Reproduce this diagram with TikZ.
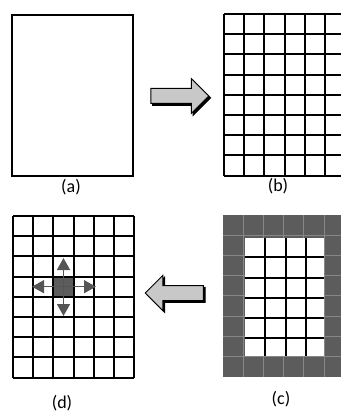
\documentclass[tikz,border=0pt]{standalone}
\usepackage{fontspec}
\setmainfont{Carlito}
\usepackage{tikz}
\usetikzlibrary{arrows.meta, positioning, shapes.arrows, shadows}

\definecolor{arrowfill}{RGB}{200,200,200}
\definecolor{cellgray}{RGB}{92,92,92}
\definecolor{sepgray}{RGB}{135,135,135}
\definecolor{markgray}{RGB}{85,85,85}

\begin{document}
\begin{tikzpicture}[
  x=1pt, y=-1pt,
  gridline/.style={line width=1.9pt, black},
  sepline/.style={line width=1pt, sepgray},
  panel/.style={draw, line width=1.9pt, minimum width=121pt, minimum height=161pt, inner sep=0pt, anchor=north west},
  caption/.style={font=\fontsize{18}{20}\selectfont, inner sep=0pt},
  bigarrow/.style={single arrow, draw, line width=1pt, fill=arrowfill, inner sep=7pt,
    single arrow head extend=10pt, minimum height=58pt,
    copy shadow={shadow xshift=1.8pt, shadow yshift=-1.8pt, fill=black, draw=black}},
  spread/.style={-{Triangle[length=12pt, width=13pt]}, line width=1.5pt, markgray}
]
\useasboundingbox (0,0) rectangle (340,414);

% (a) empty domain
\node[panel] (pa) at (11,14) {};
\node[caption] (la) at (71,187) {(a)};

% step arrows
\node[bigarrow] (fwd) at (176,96) {};
\node[bigarrow, shape border rotate=180] (back) at (178,293) {};

% (b) meshed domain
\begin{scope}[shift={(224,14)}]
  \foreach \i in {0,...,6}
    \draw[gridline] (\i*20.2,0) -- (\i*20.2,161.6);
  \foreach \j in {0,...,8}
    \draw[gridline] (0,\j*20.2) -- (121.2,\j*20.2);
\end{scope}
\node[caption] (lb) at (278,186) {(b)};

% (c) boundary cells filled
\begin{scope}[shift={(223,215)}]
  \fill[cellgray] (0,0) rectangle (121.2,161.6);
  \foreach \i in {1,...,5}
    \draw[sepline] (\i*20.2,0) -- (\i*20.2,161.6);
  \foreach \j in {1,...,7}
    \draw[sepline] (0,\j*20.2) -- (121.2,\j*20.2);
  \fill[white] (22,23) rectangle (101,141);
  \foreach \i in {2,...,4}
    \draw[gridline] (\i*20.2+2,23) -- (\i*20.2+2,141);
  \foreach \j in {2,...,6}
    \draw[gridline] (22,\j*20.2+2) -- (101,\j*20.2+2);
\end{scope}
\node[caption] (lc) at (281,399) {(c)};

% (d) propagation from one cell
\begin{scope}[shift={(13,216)}]
  \node[fill=cellgray, minimum size=20.2pt, inner sep=0pt] (seed) at (50.5,70.7) {};
  \foreach \i in {0,...,6}
    \draw[gridline] (\i*20.2,0) -- (\i*20.2,161.6);
  \foreach \j in {0,...,8}
    \draw[gridline] (0,\j*20.2) -- (121.2,\j*20.2);
  \coordinate (up) at (50.5,42);
  \coordinate (down) at (50.5,100);
  \coordinate (left) at (19,70.7);
  \coordinate (right) at (83,70.7);
\end{scope}
\draw[spread] (seed.center) -- (up);
\draw[spread] (seed.center) -- (down);
\draw[spread] (seed.center) -- (left);
\draw[spread] (seed.center) -- (right);
\node[caption] (ld) at (62,403) {(d)};

\end{tikzpicture}
\end{document}
